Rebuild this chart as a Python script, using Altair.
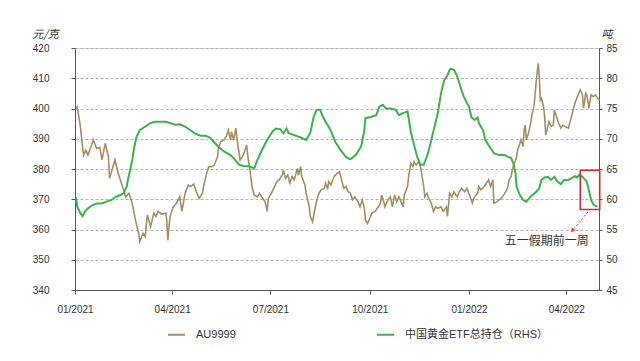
import altair as alt
import pandas as pd

START = pd.Timestamp("2021-01-01")

# AU9999 (left axis, 元/克) — day offsets from 2021-01-01 and prices
au_days = [1, 2, 5, 7, 8, 10, 12, 17, 20, 23,
           25, 28, 31, 32, 37, 40, 45, 47, 50, 53,
           56, 59, 60, 63, 65, 67, 70, 73, 75, 77,
           80, 84, 85, 86, 88, 91, 94, 97, 99, 102,
           105, 107, 110, 113, 115, 118, 119, 122, 124, 127,
           129, 132, 133, 135, 138, 140, 142, 144, 145, 147,
           149, 151, 153, 155, 157, 159, 160, 162, 164, 166,
           169, 171, 173, 176, 178, 179, 182, 184, 187, 189,
           192, 193, 195, 197, 199, 201, 203, 206, 207, 209,
           210, 213, 214, 217, 218, 220, 222, 224, 226, 228,
           231, 232, 234, 235, 237, 240, 243, 245, 249, 251,
           253, 255, 257, 259, 262, 264, 266, 268, 269, 271,
           273, 275, 278, 280, 283, 284, 286, 287, 289, 292,
           294, 296, 298, 300, 302, 304, 305, 308, 309, 311,
           313, 314, 316, 318, 320, 321, 323, 324, 326, 327,
           330, 332, 334, 336, 339, 341, 344, 345, 347, 349,
           351, 354, 356, 358, 361, 363, 366, 368, 370, 373,
           374, 376, 379, 381, 383, 385, 387, 388, 391, 393,
           396, 399, 401, 402, 404, 405, 407, 409, 410, 412,
           413, 415, 416, 417, 418, 420, 422, 423, 425, 426,
           427, 428, 429, 430, 431, 432, 434, 435, 436, 438,
           439, 441, 443, 444, 446, 448, 450, 452, 454, 457,
           459, 461, 463, 466, 468, 470, 471, 473, 474, 476,
           478, 480, 482, 484, 486]
au_vals = [400.1, 400.6, 394, 387.4, 384.6, 386.3, 384.6, 389.6, 386.8, 387.2,
           383, 388.5, 384, 376.9, 383, 378.6, 373.1, 370.8, 372, 368.7,
           363.1, 358.7, 356, 358.7, 357.6, 364.8, 361, 365.4, 364.3, 366,
           365.1, 365.4, 363.1, 356.5, 364.3, 367.5, 368.7, 370.8, 366, 372,
           374.7, 374.2, 375, 372, 370.3, 372, 374.2, 378.6, 380.8, 380.8,
           381.3, 384, 387.4, 389, 389.6, 390.7, 392.9, 389.6, 392.3, 389.6,
           393.5, 387.4, 383, 384, 385.7, 387.9, 384.6, 379.7, 374.2, 371.4,
           370.8, 372, 370.8, 369.2, 366, 370.2, 372, 373.6, 375.8, 376.4,
           378, 379.7, 376.9, 378, 375.3, 377.5, 376.4, 380.2, 378, 380.8,
           377.5, 374.7, 372, 367.5, 364.3, 362.6, 366.4, 369.8, 372, 373.1,
           373.6, 375.3, 373.6, 375.8, 374.7, 377.5, 378.6, 379.1, 373.6, 374.2,
           372.5, 372, 369.8, 370.8, 369.2, 367.5, 369.8, 367, 363.1, 362,
           363.7, 365.4, 366, 367, 368.7, 371.4, 369.2, 367.5, 369.2, 370.8,
           367.5, 371.4, 369.2, 370.8, 369.2, 367.5, 371.4, 374.2, 377.5, 381.9,
           380.8, 382.4, 381.3, 382.4, 380.8, 378.6, 374.2, 370.8, 372, 370.8,
           368.7, 366, 367.5, 367, 367.5, 366, 367.5, 364.3, 372, 370.8,
           372.5, 370.8, 372.5, 373.6, 372.5, 373.6, 370.8, 368.7, 370.8, 372,
           374.2, 373.1, 374.2, 375.3, 376.4, 374.2, 376.4, 368.7, 369.2, 369.8,
           370.8, 372.5, 374.2, 376.4, 377.5, 379.7, 381.9, 384, 386.3, 388.5,
           389.6, 387.4, 392.9, 394.5, 389.6, 391.8, 395.1, 397.3, 400.6, 403.9,
           408.3, 411.6, 414.9, 410.5, 402.8, 403.4, 400.6, 397.3, 391.2, 394,
           395.6, 394, 394.5, 399.5, 397.3, 395.1, 393.5, 394.5, 394, 393.5,
           396.2, 399, 401.7, 404.5, 406.1, 404.5, 400.1, 405, 404.5, 400.1,
           404.5, 403.9, 404.5, 403.4, 402.8]

# China gold ETF total holdings (right axis, 吨)
etf_days = [1, 2, 5, 7, 9, 12, 16, 20, 25, 29,
            34, 37, 42, 45, 48, 49, 51, 53, 55, 57,
            60, 65, 70, 74, 79, 84, 88, 93, 97, 102,
            107, 111, 116, 121, 125, 127, 132, 138, 144, 147,
            152, 156, 162, 166, 169, 173, 178, 183, 186, 190,
            193, 196, 198, 203, 209, 214, 218, 221, 224, 227,
            229, 232, 235, 238, 241, 244, 246, 251, 255, 260,
            265, 268, 269, 274, 279, 282, 285, 288, 292, 297,
            300, 303, 308, 309, 311, 314, 317, 320, 323, 327,
            330, 333, 336, 339, 342, 345, 347, 348, 351, 354,
            357, 360, 363, 365, 367, 370, 373, 374, 378, 380,
            384, 388, 393, 398, 401, 404, 406, 408, 409, 412,
            415, 418, 422, 427, 430, 432, 435, 438, 441, 444,
            447, 450, 453, 457, 460, 463, 465, 467, 470, 474,
            476, 478, 480, 482, 484]
etf_vals = [60.4, 58.8, 57.7, 57.2, 57.9, 58.5, 59.0, 59.3, 59.3, 59.6,
            59.9, 60.3, 60.7, 61.0, 62.1, 63.2, 64.8, 66.5, 68.7, 70.3,
            71.4, 72.0, 72.6, 72.8, 72.8, 72.8, 72.6, 72.3, 72.4, 72.0,
            71.4, 70.9, 70.5, 70.5, 70.2, 69.8, 68.8, 67.9, 67.3, 66.8,
            65.7, 65.5, 65.4, 65.1, 66.5, 68.1, 69.8, 71.2, 71.7, 71.6,
            70.9, 71.7, 70.9, 70.6, 70.2, 69.8, 71.0, 73.6, 74.8, 74.8,
            73.9, 72.8, 72.0, 70.9, 69.5, 68.7, 68.1, 67.0, 66.6, 67.3,
            68.7, 71.4, 73.4, 73.6, 73.9, 75.3, 75.6, 75.0, 75.0, 74.8,
            73.9, 74.2, 74.5, 73.4, 71.2, 69.0, 67.0, 65.7, 65.7, 67.6,
            69.8, 72.0, 74.2, 77.5, 79.7, 80.5, 81.4, 81.6, 81.4, 80.3,
            78.6, 77.0, 75.9, 75.3, 73.6, 73.1, 73.5, 72.6, 71.4, 69.8,
            68.7, 67.6, 67.3, 67.3, 67.0, 66.8, 65.9, 64.3, 62.1, 60.7,
            59.9, 59.6, 60.4, 61.2, 61.8, 63.2, 63.6, 63.7, 63.2, 63.7,
            62.9, 62.5, 63.2, 63.2, 63.5, 63.8, 63.6, 64.0, 63.7, 62.9,
            61.5, 59.9, 59.2, 58.9, 58.8]

series_names = ["AU9999", "中国黄金ETF总持仓（RHS）"]
series_colors = ["#a58f60", "#3bb34a"]

left_ticks = [340, 350, 360, 370, 380, 390, 400, 410, 420]
right_ticks = [45, 50, 55, 60, 65, 70, 75, 80, 85]
x_tick_months = [(2021, 1), (2021, 4), (2021, 7), (2021, 10), (2022, 1), (2022, 4)]

# annotation (in day offsets / right-axis units)
box_days = [468, 486]
box_range = [58.3, 64.8]
arrow_days = [475, 461]
arrow_vals = [57.9, 54.9]
note_day = 437
note_val = 53.1
note_text = "五一假期前一周"

FONT = "Liberation Sans, Noto Sans CJK SC"
CJK = "Noto Sans CJK SC"


def to_date(d):
    return START + pd.to_timedelta(d, unit="D")


au = pd.DataFrame({"date": to_date(pd.Series(au_days)), "value": au_vals,
                   "series": series_names[0]})
etf = pd.DataFrame({"date": to_date(pd.Series(etf_days)), "value": etf_vals,
                    "series": series_names[1]})
box = pd.DataFrame({"d1": [to_date(box_days[0])], "d2": [to_date(box_days[1])],
                    "v1": [box_range[0]], "v2": [box_range[1]]})
arrow = pd.DataFrame({"d1": [to_date(arrow_days[0])], "d2": [to_date(arrow_days[1])],
                      "v1": [arrow_vals[0]], "v2": [arrow_vals[1]]})
head = pd.DataFrame({"d": [to_date(arrow_days[1])], "v": [arrow_vals[1]]})
note = pd.DataFrame({"d": [to_date(note_day)], "v": [note_val], "t": [note_text]})

x_domain = [alt.DateTime(year=2021, month=1, date=1),
            alt.DateTime(year=2022, month=5, date=1, hours=8)]
x_values = [alt.DateTime(year=y, month=m, date=1) for y, m in x_tick_months]

x_axis = alt.Axis(values=x_values, format="%m/%Y", grid=False, tickSize=4,
                  labelPadding=10, labelFontSize=10, labelColor="#333",
                  labelFlush=False, domainColor="#555", tickColor="#555")
x_scale = alt.Scale(domain=x_domain)

color = alt.Color("series:N",
                  scale=alt.Scale(domain=series_names, range=series_colors),
                  legend=alt.Legend(orient="none", legendX=92, legendY=277,
                                    direction="horizontal", title=None,
                                    symbolType="stroke", symbolSize=289,
                                    symbolStrokeWidth=2, labelFontSize=11,
                                    labelFont=FONT, labelColor="#333",
                                    labelOffset=10, columnPadding=137,
                                    padding=0, labelLimit=300))

left_axis = alt.Axis(orient="left", values=left_ticks, grid=True,
                     gridDash=[3, 2], gridColor="#b5b5b5", gridWidth=1,
                     tickSize=4, labelPadding=22, labelFontSize=10,
                     labelColor="#333", domainColor="#555", tickColor="#555",
                     title="元/克", titleAngle=0, titleX=-43, titleY=-14,
                     titleAlign="left", titleBaseline="middle", titleFont=CJK,
                     titleFontSize=11, titleFontWeight="normal",
                     titleFontStyle="italic", titleColor="#333")

right_axis = alt.Axis(orient="right", values=right_ticks, grid=False,
                      tickSize=3, labelPadding=4, labelFontSize=10,
                      labelColor="#333", domainColor="#555", tickColor="#555",
                      title="吨", titleAngle=0, titleX=2, titleY=-14,
                      titleAlign="left", titleBaseline="middle", titleFont=CJK,
                      titleFontSize=11, titleFontWeight="normal",
                      titleFontStyle="italic", titleColor="#333")

left_scale = alt.Scale(domain=[340, 420], nice=False, zero=False)
right_scale = alt.Scale(domain=[45, 85], nice=False, zero=False)

gold = alt.Chart(au).mark_line(strokeWidth=1.6).encode(
    x=alt.X("date:T", scale=x_scale, axis=x_axis, title=None),
    y=alt.Y("value:Q", scale=left_scale, axis=left_axis),
    color=color,
)

green = alt.Chart(etf).mark_line(strokeWidth=2).encode(
    x=alt.X("date:T", scale=x_scale, axis=x_axis, title=None),
    y=alt.Y("value:Q", scale=right_scale, axis=right_axis),
    color=color,
)

box_layer = alt.Chart(box).mark_rect(fill=None, stroke="#d42a2a", strokeWidth=1.6).encode(
    x=alt.X("d1:T", scale=x_scale, axis=x_axis, title=None), x2="d2:T",
    y=alt.Y("v1:Q", scale=right_scale, axis=right_axis), y2="v2:Q",
)

arrow_layer = alt.Chart(arrow).mark_rule(color="#e04040", strokeDash=[2, 2], strokeWidth=1).encode(
    x=alt.X("d1:T", scale=x_scale, axis=x_axis, title=None), x2="d2:T",
    y=alt.Y("v1:Q", scale=right_scale, axis=right_axis), y2="v2:Q",
)

head_layer = alt.Chart(head).mark_point(shape="triangle", filled=True, size=22,
                                        angle=219, color="#e04040", opacity=1).encode(
    x=alt.X("d:T", scale=x_scale, axis=x_axis, title=None),
    y=alt.Y("v:Q", scale=right_scale, axis=right_axis),
)

note_layer = alt.Chart(note).mark_text(font=CJK, fontSize=12, color="#333",
                                       align="center", baseline="middle").encode(
    x=alt.X("d:T", scale=x_scale, axis=x_axis, title=None),
    y=alt.Y("v:Q", scale=right_scale, axis=right_axis),
    text="t:N",
)

rhs = alt.layer(green, box_layer, arrow_layer, head_layer, note_layer)

chart = alt.layer(gold, rhs).resolve_scale(y="independent").properties(
    width=524, height=242,
    padding={"left": 67, "top": 40, "right": 33, "bottom": 60},
    autosize=alt.AutoSizeParams(type="none"),
).configure_view(stroke=None).configure_axis(
    labelFont=FONT, titleFont=CJK
).configure(background="white")

chart.save("out.html", embed_options={"renderer": "svg", "actions": False})
